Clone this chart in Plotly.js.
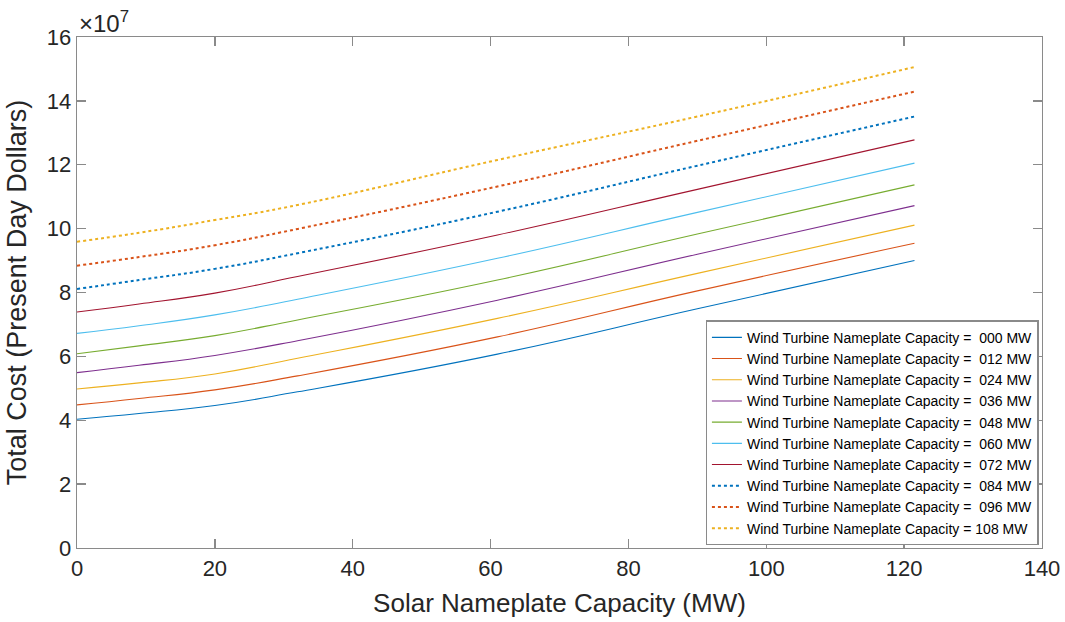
<!DOCTYPE html>
<html>
<head>
<meta charset="utf-8">
<script src="https://cdn.plot.ly/plotly-3.0.1.min.js"></script>
<style>html,body{margin:0;padding:0;background:#fff;}#chart{width:1065px;height:622px;}</style>
</head>
<body>
<div id="chart"></div>
<script>
// Solar nameplate capacity (MW) at which values were read
const solarMW = [0, 9, 20, 32, 61, 90, 121.5];

// Wind turbine capacities (legend labels)
const windLabels = ["000", "012", "024", "036", "048", "060", "072", "084", "096", "108"];

// Total cost, in units of 10^7 present-day dollars
const cost000 = [4.03, 4.21, 4.46, 4.89, 6.07, 7.49, 9.00];
const cost012 = [4.48, 4.68, 4.95, 5.39, 6.61, 8.05, 9.54];
const cost024 = [4.98, 5.17, 5.45, 5.94, 7.19, 8.60, 10.11];
const cost036 = [5.49, 5.72, 6.03, 6.49, 7.76, 9.20, 10.72];
const cost048 = [6.08, 6.33, 6.65, 7.14, 8.39, 9.83, 11.37];
const cost060 = [6.72, 6.96, 7.30, 7.79, 9.07, 10.51, 12.05];
const cost072 = [7.39, 7.64, 7.98, 8.50, 9.80, 11.23, 12.78];
const cost084 = [8.11, 8.39, 8.74, 9.23, 10.53, 11.97, 13.51];
const cost096 = [8.84, 9.11, 9.48, 9.99, 11.32, 12.75, 14.29];
const cost108 = [9.59, 9.87, 10.27, 10.74, 12.15, 13.51, 15.06];

const xTicks = [0, 20, 40, 60, 80, 100, 120, 140];
const yTicks = [0, 2, 4, 6, 8, 10, 12, 14, 16];

const allCosts = [cost000, cost012, cost024, cost036, cost048, cost060, cost072, cost084, cost096, cost108];
const colors = ["#0072BD", "#D95319", "#EDB120", "#7E2F8E", "#77AC30", "#4DBEEE", "#A2142F", "#0072BD", "#D95319", "#EDB120"];
const dashes = ["solid", "solid", "solid", "solid", "solid", "solid", "solid", "dot", "dot", "dot"];

const traces = allCosts.map((ys, i) => {
  const lbl = windLabels[i];
  const name = "Wind Turbine Nameplate Capacity =" + (lbl.charAt(0) === "0" ? "\u00a0\u00a0" : " ") + lbl + " MW";
  return {
    x: solarMW, y: ys, type: "scatter", mode: "lines", name: name,
    line: {color: colors[i], width: dashes[i] === "dot" ? 2 : 1.1, dash: dashes[i], shape: "spline", smoothing: 1.3}
  };
});

const FONT = "Liberation Sans, Arial, sans-serif";
const axisCommon = {
  showgrid: false, zeroline: false, showline: true, linecolor: "#8a8a8a", linewidth: 1.3,
  mirror: "ticks", ticks: "inside", ticklen: 9, tickcolor: "#8a8a8a", tickwidth: 1.3,
  tickfont: {family: FONT, size: 22, color: "#262626"}
};

const layout = {
  width: 1065, height: 622,
  paper_bgcolor: "#fff", plot_bgcolor: "#fff",
  margin: {l: 77, r: 23, t: 37, b: 74},
  showlegend: true,
  xaxis: Object.assign({}, axisCommon, {
    range: [0, 140], tickvals: xTicks, ticktext: xTicks.map(String),
    title: {text: "Solar Nameplate Capacity (MW)", font: {family: FONT, size: 26, color: "#262626"}, standoff: 14}
  }),
  yaxis: Object.assign({}, axisCommon, {
    range: [0, 16], tickvals: yTicks, ticktext: yTicks.map(String),
    title: {text: "Total Cost (Present Day Dollars)", font: {family: FONT, size: 27, color: "#262626"}, standoff: 12}
  }),
  legend: {
    x: 0.9965, y: 0.005, xanchor: "right", yanchor: "bottom",
    bgcolor: "#fff", bordercolor: "#8a8a8a", borderwidth: 1.3,
    font: {family: FONT, size: 14, color: "#000"},
    itemwidth: 30, tracegroupgap: 0
  },
  annotations: [{
    xref: "paper", yref: "paper", x: 0, y: 1, xanchor: "left", yanchor: "bottom",
    text: "\u00d710<sup>7</sup>", showarrow: false, xshift: 0, yshift: -2,
    font: {family: FONT, size: 24, color: "#262626"}
  }]
};

Plotly.newPlot("chart", traces, layout, {displayModeBar: false, staticPlot: true});
</script>
</body>
</html>
